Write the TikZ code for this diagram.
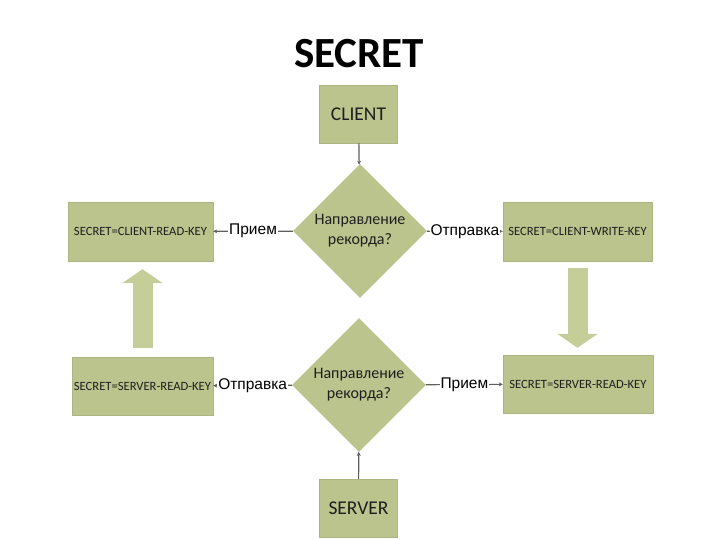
\documentclass[tikz,border=0pt]{standalone}
\usepackage{fontspec}
\setmainfont{Carlito}
\newfontfamily\labelfont{Liberation Sans}
\usetikzlibrary{arrows.meta,positioning,shapes.geometric}

\definecolor{boxgreen}{RGB}{188,196,142}
\definecolor{arrowgreen}{RGB}{197,206,153}
\definecolor{linegray}{RGB}{95,95,95}
\definecolor{txt}{RGB}{30,30,30}

\tikzset{
	box/.style={rectangle, fill=boxgreen, draw=boxgreen!92!black, line width=0.4pt, text=txt, inner sep=0pt},
	keybox/.style={box, minimum height=59pt, font=\fontsize{12.6}{14}\selectfont},
	endbox/.style={box, minimum width=78pt, minimum height=58pt, font=\fontsize{19.5}{22}\selectfont},
	dec/.style={diamond, shape aspect=1, fill=boxgreen, minimum size=134pt, inner sep=0pt, text=txt, align=center, font=\fontsize{16}{20}\selectfont},
	lab/.style={fill=white, inner sep=1pt, text=black, font=\labelfont\fontsize{15.5}{18}\selectfont},
	conn/.style={draw=linegray, line width=1.2pt, -{Stealth[length=4pt,width=4pt]}},
	big/.style={draw=arrowgreen, line width=20pt, -{Triangle[length=14pt,width=40pt]}},
}

\begin{document}
\begin{tikzpicture}[x=1pt,y=-1pt]
	\useasboundingbox (0,0) rectangle (720,540);
	\node[font=\bfseries\fontsize{43}{43}\selectfont] (t) at (359,54) {SECRET};

	\node[endbox]		(c)	at (358.5,114) 	{CLIENT};
	\node[dec]		(d1)	at (360,231) 	{Направление\\рекорда?};
	\node[keybox, minimum width=145pt]	(cr)	at (140.5,231.5)	{SECRET=CLIENT-READ-KEY};
	\node[keybox, minimum width=149pt]	(cw)	at (577.5,231.5)	{SECRET=CLIENT-WRITE-KEY};
	\draw[conn] (c) -- (d1);
	\draw[conn] (d1) -- node[lab] {Прием} (cr);
	\draw[conn] (d1) -- node[lab] {Отправка} (cw);

	\node[endbox]		(s)	at (358.5,508) 	{SERVER};
	\node[dec]		(d2)	at (359,385) 	{Направление\\рекорда?};
	\node[keybox, minimum width=141pt, minimum height=58pt]	(sl)	at (142.5,386)	{SECRET=SERVER-READ-KEY};
	\node[keybox, minimum width=150pt, minimum height=58pt]	(sr)	at (578,384)	{SECRET=SERVER-READ-KEY};
	\draw[conn] (s) -- (d2);
	\draw[conn] (d2) -- node[lab] {Отправка} (sl);
	\draw[conn] (d2) -- node[lab] {Прием} (sr);

	% big arrows between the key boxes
	\draw[big, shorten <=9pt, shorten >=8pt] (sl.north) -- (sl.north |- cr.south);
	\draw[big, shorten <=7pt, shorten >=7pt] (cw.south) -- (cw.south |- sr.north);
\end{tikzpicture}
\end{document}
